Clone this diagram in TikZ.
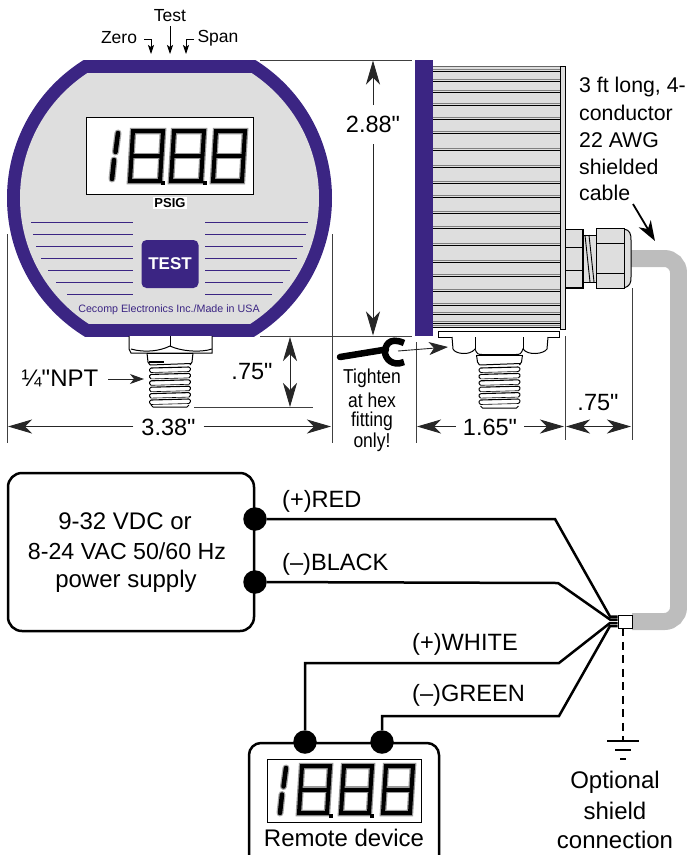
\documentclass[tikz,border=0pt]{standalone}
\usepackage{fontspec}
\newfontfamily\arialf{Liberation Sans}
\usetikzlibrary{arrows.meta}
\definecolor{brandpurple}{HTML}{3B2583}
\definecolor{facegray}{HTML}{DEDEDE}
\definecolor{cablegray}{HTML}{BDBDBD}
\newcommand\fsz[1]{\arialf\fontsize{#1}{#1}\selectfont}
\tikzset{
  txt/.style={inner sep=0pt,align=center,text=black},
  dimline/.style={line width=.9pt,black!85},
  extline/.style={line width=.9pt,black!75},
  dimtip/.style={-{Stealth[length=24pt,width=14pt,inset=7pt]}},
  dimtips/.style={{Stealth[length=24pt,width=14pt,inset=7pt]}-{Stealth[length=24pt,width=14pt,inset=7pt]}},
  smalltip/.style={-{Stealth[length=9pt,width=6pt,inset=2pt]}},
  wire/.style={line width=2.5pt,black,line join=miter},
  wiredot/.style={circle,fill=black,minimum size=23.5pt,inner sep=0pt},
  part/.style={draw=black,line width=1pt,fill=facegray},
}
% seven-segment digit
\newcommand\eightdigit[4]{%
  \foreach \cc/\lw in {black!40/6.5pt,black/4pt}{
    \draw[\cc,line width=\lw,line join=miter]
      (#1+2,#2+#4) -- (#1+5,#2) -- (#1+#3,#2) -- (#1+#3-3,#2+#4) -- cycle;
    \draw[\cc,line width=\lw] (#1+3.5,#2+.5*#4) -- (#1+#3-1.5,#2+.5*#4);
  }
}
\newcommand\onedigit[4]{%
  \foreach \cc/\lw in {black!35/7pt,black/4.5pt}{
    \draw[\cc,line width=\lw,line cap=round] (#1+#3-1,#2+2) -- (#1+#3-3.5,#2+.5*#4-4);
    \draw[\cc,line width=\lw,line cap=round] (#1+#3-5,#2+.5*#4+4) -- (#1+#3-7,#2+#4-2);
  }
}
% threaded stud
\newcommand\stud[4]{% cx, collar top, thread top, bottom
  \fill[white] (#1-22,#2) rectangle (#1+22,#4);
  \draw[line width=1pt] (#1-23,#2) -- (#1-22,#3-3) -- (#1-20,#3) ;
  \draw[line width=1pt] (#1+23,#2) -- (#1+22,#3-3) -- (#1+20,#3) ;
  \draw[line width=1pt] (#1-23,#2) -- (#1+23,#2);
  \draw[line width=1pt] (#1-20,#3) -- (#1+21,#3-1.5);
  \foreach \k in {0,...,5}{
    \draw[line width=1pt,rounded corners=1pt] (#1-19,#3+3+\k*6.4) -- (#1-21,#3+5+\k*6.4) -- (#1-19,#3+7.5+\k*6.4);
    \draw[line width=1pt,rounded corners=1pt] (#1+19,#3+2+\k*6.4) -- (#1+21,#3+4+\k*6.4) -- (#1+19,#3+6.5+\k*6.4);
    \draw[line width=1.1pt] (#1-19,#3+3+\k*6.4) -- (#1+19,#3+2+\k*6.4);
    \draw[line width=.6pt] (#1-19,#3+7.5+\k*6.4) -- (#1+19,#3+6.5+\k*6.4);
  }
  \draw[line width=1pt] (#1-19,#4-2) -- (#1-17,#4) -- (#1+17,#4) -- (#1+19,#4-2);
}
\begin{document}
\begin{tikzpicture}[x=1pt,y=-1pt]
\useasboundingbox (0,0) rectangle (687,855);

% ---------- front view
\begin{scope}
  \clip (0,60) rectangle (340,336);
  \fill[brandpurple] (169.5,198) circle[radius=162.5pt];
\end{scope}
\begin{scope}
  \clip (0,73) rectangle (340,323);
  \fill[facegray] (169.5,198) circle[radius=149.5pt];
\end{scope}
\node[draw=black,line width=.8pt,fill=white,minimum width=167pt,minimum height=77pt,inner sep=0pt] (frontdisp) at (169.5,155.5) {};
\onedigit{107}{131}{12}{50}
\eightdigit{128}{131}{35}{50}
\eightdigit{169}{131}{35}{50}
\eightdigit{211}{131}{34}{50}
\fill (161,180.5) rectangle +(4,4);
\fill (202.5,180.5) rectangle +(4,4);
\node[fill=white,inner xsep=1pt,inner ysep=1.5pt,font=\fsz{13}\bfseries] (psig) at (170,203) {PSIG};

\foreach \a/\y in {31/222,33/234,36/246,41/258,48/270,56/282,67/294}
  \draw[brandpurple,line width=1pt] (\a,\y) -- (133,\y);
\foreach \b/\y in {308/222,306/234,303/246,297/258,290/270,283/282,272/294}
  \draw[brandpurple,line width=1pt] (205,\y) -- (\b,\y);
\node[fill=brandpurple,rounded corners=5pt,minimum width=57pt,minimum height=48pt,inner sep=0pt,text=white,font=\fsz{17}\bfseries] (testbtn) at (170,264) {TEST};
\node[txt,text=brandpurple,font=\fsz{10.7}] (maker) at (169,310) {Cecomp Electronics Inc./Made in USA};

% front fitting
\draw[line width=1pt,fill=white] (129,336) -- (129,349) -- (131,353) -- (212,353) -- (212,349) -- (212,336);
\draw[line width=1pt] (131,349) .. controls (145,353) and (160,351) .. (170,346) .. controls (180,351) and (200,353) .. (212,349);
\draw[line width=1pt] (170,336) -- (170,346);
\stud{170}{353}{365}{407}
\draw[line width=1.2pt] (149,362) -- (164,362);

% adjusters
\node[txt,font=\fsz{17.5}] (lbltest) at (170,16) {Test};
\node[txt,font=\fsz{17.5}] (lblzero) at (119,38) {Zero};
\node[txt,font=\fsz{17.5}] (lblspan) at (218,38) {Span};
\coordinate (testfrom) at (170,26);
\coordinate (testto) at (170,54);
\coordinate (zerofrom) at (144,39);
\coordinate (zeroto) at (151,54);
\coordinate (spanfrom) at (194,39);
\coordinate (spanto) at (186,54);
\draw[smalltip,line width=.8pt] (testfrom) -- (testto);
\draw[smalltip,line width=.8pt] (zerofrom) -| (zeroto);
\draw[smalltip,line width=.8pt] (spanfrom) -| (spanto);

% ---------- dimensions
\coordinate (e1a) at (260,60); \coordinate (e1b) at (412,60);
\coordinate (e2a) at (260,336); \coordinate (e2b) at (412,336);
\draw[extline] (e1a) -- (e1b);
\draw[extline] (e2a) -- (e2b);
\coordinate (wl) at (7,234); \coordinate (wlb) at (7,443);
\coordinate (wr) at (332,234); \coordinate (wrb) at (332,443);
\draw[extline] (wl) -- (wlb);
\draw[extline] (wr) -- (wrb);
\node[txt,font=\fsz{23.5}] (w338) at (168.5,427) {3.38"};
\draw[dimline,dimtip] (w338.west) ++(-8,-.5) -- (8,426.5);
\draw[dimline,dimtip] (w338.east) ++(8,-.5) -- (331,426.5);
\node[txt,font=\fsz{23.5}] (h288) at (373,124) {2.88"};
\coordinate (h288top) at (373,60.5);
\coordinate (h288bot) at (373,335.5);
\draw[dimline,dimtip] (373,105) -- (h288top);
\draw[dimline,dimtip] (373,144) -- (h288bot);
\coordinate (d75a) at (290,337);
\coordinate (d75b) at (290,407);
\draw[dimline,dimtips] (d75a) -- (d75b);
\coordinate (d75c) at (194,407); \coordinate (d75d) at (313,407);
\draw[extline] (d75c) -- (d75d);
\node[txt,font=\fsz{23.5}] (t75) at (252,372) {.75"};
\node[txt,font=\fsz{24}] (npt) at (60,378) {¼"NPT};
\coordinate (nptto) at (144,379);
\draw[dimline,-{Stealth[length=14pt,width=10pt,inset=4pt]}] (npt.east) ++(10,1) -- (nptto);

% ---------- side view
\fill[brandpurple] (415,60) rectangle (433,336);
\fill[facegray] (433,66) rectangle (560,328);
\draw[line width=.9pt,fill=facegray] (560,66) rectangle (565,329);
\foreach \y in {71,81,92,105,119,133,150,167,183,197,213,228,245,262,276,291,305,314,323,327}{
  \draw[black!50,line width=.9pt] (433,\y-1.3) -- (560,\y-1.3);
  \draw[black,line width=.9pt] (433,\y) -- (560,\y);
}
\draw[black!60,line width=1pt] (433,66.5) -- (560,66.5);
\draw[line width=1pt,fill=white] (438,331) rectangle (559,337);
% side fitting
\stud{499.5}{355}{365}{408}
\draw[line width=1pt,fill=white] (452,337) -- (453,349) .. controls (455,354) and (470,356) .. (475,349)
   .. controls (477,354) and (478,354.5) .. (482,354.5) -- (516,354.5) .. controls (520,354.5) and (521,354) .. (523,349)
   .. controls (528,356) and (544,354) .. (547,349) -- (548,337);
\draw[line width=1pt] (475,337) -- (475,349);
\draw[line width=1pt] (523,337) -- (523,349);

% cable
\coordinate (cabletop) at (630,258.5);
\coordinate (cablecorner) at (678.5,258.5);
\coordinate (cablecorner2) at (678.5,621.5);
\coordinate (cableend) at (632,621.5);
\draw[cablegray,line width=17pt,rounded corners=14pt] (cabletop) -- (cablecorner) -- (cablecorner2) -- (cableend);

% gland
\draw[part] (624,229) .. controls (630,230) and (631,234) .. (631,240) -- (631,277) .. controls (631,283) and (630,286) .. (624,288) -- cycle;
\draw[part] (583,235) rectangle (596,282);
\draw[line width=.9pt] (585,235) -- (590,282);
\draw[line width=.9pt] (589,235) -- (594,282);
\draw[part] (565,229) rectangle (583,288);
\draw[line width=1pt] (565,247) -- (583,247);
\draw[line width=1pt] (565,270) -- (583,270);
\draw[line width=2pt] (565,288) -- (583,288) -- (583,229);
\draw[part] (596,228) rectangle (624,288);
\draw[line width=1pt] (596,243) -- (624,243);
\draw[line width=1pt] (596,273) -- (624,273);

% side dimensions
\coordinate (s1a) at (416,342); \coordinate (s1b) at (416,443);
\coordinate (s2a) at (565,336); \coordinate (s2b) at (565,440);
\coordinate (s3a) at (632,288); \coordinate (s3b) at (632,440);
\draw[extline] (s1a) -- (s1b);
\draw[extline] (s2a) -- (s2b);
\draw[extline] (s3a) -- (s3b);
\node[txt,font=\fsz{23.5}] (w165) at (490,427) {1.65"};
\draw[dimline,dimtip] (w165.west) ++(-7,-.5) -- (417,426.5);
\draw[dimline,dimtip] (w165.east) ++(7,-.5) -- (564,426.5);
\coordinate (g75a) at (566,426.5); \coordinate (g75b) at (631,426.5);
\draw[dimline,dimtips] (g75a) -- (g75b);
\node[txt,font=\fsz{23.5}] (t75b) at (598,403) {.75"};

% wrench
\coordinate (wrenchtail) at (340,357);
\coordinate (wrenchneck) at (386,349.5);
\draw[line width=6.5pt,line cap=round] (wrenchtail) -- (wrenchneck);
\draw[line width=6.5pt] (404,343) .. controls (388,336) and (385,347) .. (385,352) .. controls (385,358) and (392,367) .. (404,362);
\coordinate (hexfrom) at (398,351);
\coordinate (hexto) at (448,347);
\draw[dimline,-{Stealth[length=19pt,width=13pt,inset=5pt]}] (hexfrom) -- (hexto);
\node[txt,font=\fsz{17.5}] (tg1) at (372,378) {\scalebox{1}[1.15]{Tighten}};
\node[txt,font=\fsz{17.5}] (tg2) at (372,400) {\scalebox{1}[1.15]{at hex}};
\node[txt,font=\fsz{17.5}] (tg3) at (372,421) {\scalebox{1}[1.15]{fitting}};
\node[txt,font=\fsz{17.5}] (tg4) at (372,442) {\scalebox{1}[1.15]{only!}};

% cable note
\node[txt,font=\fsz{21.3},anchor=west] (n1) at (579,87) {3 ft long, 4-};
\node[txt,font=\fsz{21.3},anchor=west] (n2) at (579,113) {conductor};
\node[txt,font=\fsz{21.3},anchor=west] (n3) at (579,140) {22 AWG};
\node[txt,font=\fsz{21.3},anchor=west] (n4) at (579,167) {shielded};
\node[txt,font=\fsz{21.3},anchor=west] (n5) at (579,193) {cable};
\coordinate (cablefrom) at (633,204);
\coordinate (cableto) at (655,241);
\draw[line width=1.8pt,-{Stealth[length=20pt,width=14pt,inset=6pt]}] (cablefrom) -- (cableto);

% ---------- wiring
\node[draw=black,line width=2.5pt,rounded corners=14pt,fill=white,minimum width=246pt,minimum height=158pt,inner sep=0pt] (psu) at (131,552) {};
\node[txt,font=\fsz{24}] (psu1) at (125,521) {9-32 VDC or};
\node[txt,font=\fsz{23.2}] (psu2) at (127,551) {8-24 VAC 50/60 Hz};
\node[txt,font=\fsz{24}] (psu3) at (126,581) {power supply};

\draw[line width=2.5pt,rounded corners=12pt] (249,856) -- (249,743) -- (439,743) -- (439,856);
\node[draw=black,line width=.8pt,fill=white,minimum width=154pt,minimum height=63pt,inner sep=0pt] (remdisp) at (344,790.5) {};
\onedigit{275}{766}{12}{49}
\eightdigit{297}{766}{33}{47}
\eightdigit{339}{766}{33}{47}
\eightdigit{381}{766}{32}{47}
\fill (329,813.5) rectangle +(4,4);
\fill (370,813.5) rectangle +(4,4);
\node[txt,font=\fsz{24}] (remlbl) at (344,838) {Remote device};

\node[wiredot] (dred) at (255,519) {};
\node[wiredot] (dblack) at (255,582) {};
\node[wiredot] (dwhite) at (305,742) {};
\node[wiredot] (dgreen) at (382,742) {};

\node[draw=black,line width=.8pt,fill=white,minimum width=14pt,minimum height=13pt,inner sep=0pt] (shield) at (625,621.5) {};
\coordinate (jr) at (610,616.5); \coordinate (jb) at (610,619.5);
\coordinate (jw) at (610,623); \coordinate (jg) at (610,626);
\coordinate (redbend) at (555,519);
\coordinate (blackbend) at (558,583);
\coordinate (whitebend1) at (305,663); \coordinate (whitebend2) at (559,663);
\coordinate (greenbend1) at (382,716); \coordinate (greenbend2) at (559,716);
\draw[wire] (dred) -- (redbend) -- (jr) -- (shield.west |- jr);
\draw[wire] (dblack) -- (blackbend) -- (jb) -- (shield.west |- jb);
\draw[wire] (dwhite) -- (whitebend1) -- (whitebend2) -- (jw) -- (shield.west |- jw);
\draw[wire] (dgreen) -- (greenbend1) -- (greenbend2) -- (jg) -- (shield.west |- jg);
\node[txt,font=\fsz{23.6},anchor=west] (lred) at (282,501) {(+)RED};
\node[txt,font=\fsz{23.6},anchor=west] (lblack) at (282,564) {(–)BLACK};
\node[txt,font=\fsz{23.6},anchor=west] (lwhite) at (412,644) {(+)WHITE};
\node[txt,font=\fsz{23.6},anchor=west] (lgreen) at (412,695) {(–)GREEN};

% shield ground
\coordinate (gndtop) at (623,741);
\draw[line width=2.5pt,dash pattern=on 8pt off 5.5pt] (shield.south -| gndtop) -- (gndtop);
\coordinate (g1a) at (607,741); \coordinate (g1b) at (639,741);
\coordinate (g2a) at (615,750); \coordinate (g2b) at (631,750);
\coordinate (g3a) at (620,759); \coordinate (g3b) at (626,759);
\draw[line width=2.5pt] (g1a) -- (g1b);
\draw[line width=2.5pt] (g2a) -- (g2b);
\draw[line width=2.5pt] (g3a) -- (g3b);
\node[txt,font=\fsz{24}] (o1) at (615,782) {Optional};
\node[txt,font=\fsz{24}] (o2) at (615,811) {shield};
\node[txt,font=\fsz{24}] (o3) at (615,840) {connection};
\end{tikzpicture}
\end{document}
